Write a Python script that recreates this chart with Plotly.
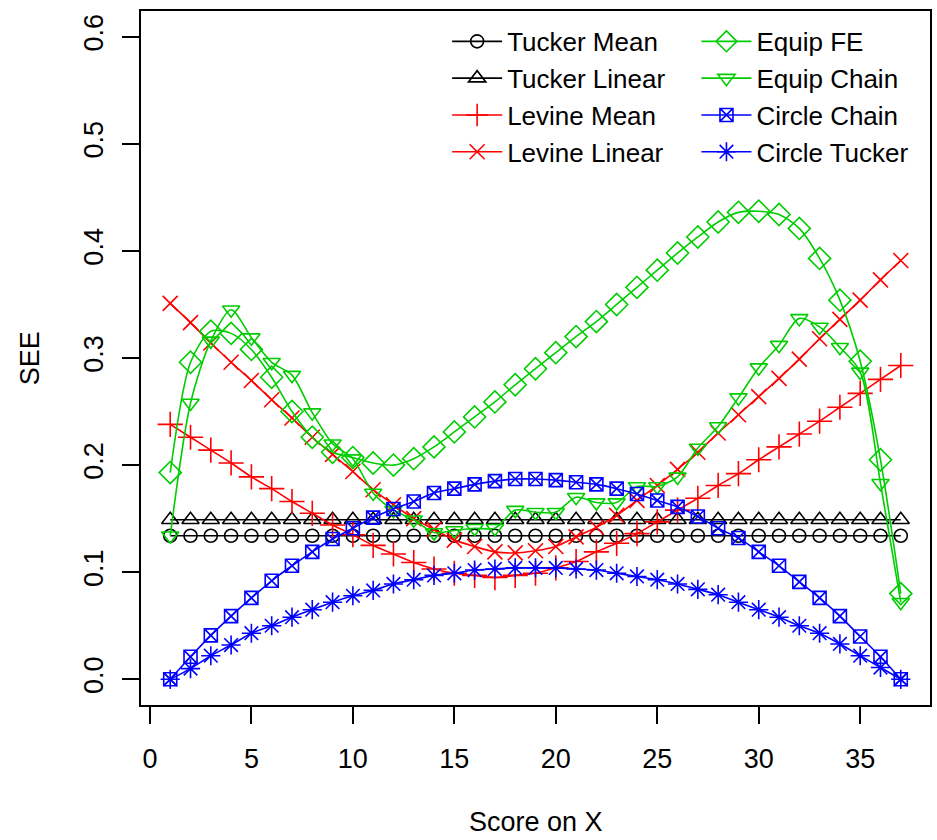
import plotly.graph_objects as go

scores = list(range(1, 38))

tucker_mean = [0.134, 0.134, 0.134, 0.134, 0.134, 0.134, 0.134, 0.134, 0.134, 0.134,
               0.134, 0.134, 0.134, 0.134, 0.134, 0.134, 0.134, 0.134, 0.134, 0.134,
               0.134, 0.134, 0.134, 0.134, 0.134, 0.134, 0.134, 0.134, 0.134, 0.134,
               0.134, 0.134, 0.134, 0.134, 0.134, 0.134, 0.134]
tucker_linear = [0.149, 0.149, 0.149, 0.149, 0.149, 0.149, 0.149, 0.149, 0.149, 0.149,
                 0.149, 0.149, 0.149, 0.149, 0.149, 0.149, 0.149, 0.149, 0.149, 0.149,
                 0.149, 0.149, 0.149, 0.149, 0.149, 0.149, 0.149, 0.149, 0.149, 0.149,
                 0.149, 0.149, 0.149, 0.149, 0.149, 0.149, 0.149]
levine_mean = [0.238, 0.226, 0.214, 0.202, 0.189, 0.178, 0.166, 0.155, 0.144, 0.135,
               0.125, 0.117, 0.109, 0.103, 0.099, 0.097, 0.095, 0.097, 0.099, 0.104,
               0.110, 0.119, 0.127, 0.136, 0.147, 0.158, 0.169, 0.181, 0.192, 0.205,
               0.217, 0.229, 0.241, 0.254, 0.267, 0.280, 0.293]
levine_linear = [0.351, 0.333, 0.314, 0.296, 0.279, 0.261, 0.244, 0.226, 0.210, 0.194,
                 0.177, 0.163, 0.150, 0.140, 0.130, 0.124, 0.119, 0.118, 0.120, 0.124,
                 0.133, 0.142, 0.153, 0.167, 0.181, 0.196, 0.212, 0.230, 0.247, 0.264,
                 0.281, 0.299, 0.318, 0.336, 0.354, 0.373, 0.391]
equip_fe = [0.193, 0.296, 0.325, 0.323, 0.308, 0.282, 0.250, 0.226, 0.212, 0.207,
            0.202, 0.200, 0.206, 0.217, 0.231, 0.245, 0.259, 0.275, 0.290, 0.305,
            0.320, 0.334, 0.350, 0.366, 0.382, 0.398, 0.413, 0.427, 0.436, 0.437,
            0.434, 0.421, 0.393, 0.354, 0.297, 0.205, 0.080]
equip_chain = [0.134, 0.258, 0.316, 0.345, 0.319, 0.296, 0.284, 0.249, 0.220, 0.206,
               0.174, 0.158, 0.149, 0.137, 0.139, 0.141, 0.141, 0.158, 0.156, 0.156,
               0.170, 0.165, 0.165, 0.180, 0.180, 0.189, 0.216, 0.236, 0.263, 0.291,
               0.312, 0.337, 0.329, 0.310, 0.287, 0.183, 0.072]
circle_chain = [0.000, 0.021, 0.041, 0.059, 0.076, 0.092, 0.106, 0.119, 0.131, 0.141,
                0.151, 0.159, 0.166, 0.174, 0.178, 0.182, 0.185, 0.187, 0.187, 0.186,
                0.184, 0.182, 0.178, 0.173, 0.167, 0.161, 0.152, 0.141, 0.132, 0.119,
                0.106, 0.091, 0.076, 0.059, 0.040, 0.021, 0.000]
circle_tucker = [0.000, 0.010, 0.022, 0.032, 0.043, 0.050, 0.058, 0.065, 0.072, 0.078,
                 0.083, 0.089, 0.093, 0.097, 0.099, 0.102, 0.103, 0.104, 0.104, 0.104,
                 0.103, 0.102, 0.099, 0.096, 0.093, 0.089, 0.084, 0.079, 0.072, 0.065,
                 0.058, 0.050, 0.043, 0.033, 0.022, 0.011, 0.000]

x_ticks = [0, 5, 10, 15, 20, 25, 30, 35]
y_ticks = [0.0, 0.1, 0.2, 0.3, 0.4, 0.5, 0.6]

BLACK = "#000000"
RED = "#FF0000"
GREEN = "#00CD00"
BLUE = "#0000FF"

series = [
    ("Tucker Mean", tucker_mean, BLACK, "circle-open", 13, "legend"),
    ("Tucker Linear", tucker_linear, BLACK, "triangle-up-open", 15, "legend"),
    ("Levine Mean", levine_mean, RED, "cross-thin-open", 18, "legend"),
    ("Levine Linear", levine_linear, RED, "x-thin-open", 15, "legend"),
    ("Equip FE", equip_fe, GREEN, "diamond-open", 17, "legend2"),
    ("Equip Chain", equip_chain, GREEN, "triangle-down-open", 15, "legend2"),
    ("Circle Chain", circle_chain, BLUE, "square-x-open", 13, "legend2"),
    ("Circle Tucker", circle_tucker, BLUE, "asterisk-open", 16, "legend2"),
]

fig = go.Figure()
for name, vals, col, sym, sz, lg in series:
    fig.add_trace(go.Scatter(
        x=scores, y=vals, name=name, mode="lines+markers",
        line=dict(color=col, width=1.6, shape="spline", smoothing=0.8),
        marker=dict(symbol=sym, size=sz, color=col, line=dict(color=col, width=1.6)),
        legend=lg,
    ))

FONT = "Liberation Sans, Arial, sans-serif"
FS = 27
leg_common = dict(
    xanchor="left", yanchor="top", bgcolor="rgba(0,0,0,0)", borderwidth=0,
    font=dict(family=FONT, size=26, color="black"), itemwidth=50,
    tracegroupgap=0,
)
fig.update_layout(
    width=937, height=840,
    margin=dict(l=141, r=5, t=11, b=135),
    paper_bgcolor="white", plot_bgcolor="white",
    font=dict(family=FONT, size=FS, color="black"),
    showlegend=True,
    legend=dict(x=0.388, y=0.99, **leg_common),
    legend2=dict(x=0.704, y=0.99, **leg_common),
    xaxis=dict(
        range=[-0.44, 38.44], tickvals=x_ticks, ticktext=[str(v) for v in x_ticks],
        showgrid=False, zeroline=False, showline=True, mirror=True,
        linecolor="black", linewidth=1.5, ticks="outside", ticklen=17,
        tickwidth=1.5, tickcolor="black", ticklabelstandoff=12,
        tickfont=dict(family=FONT, size=FS),
    ),
    yaxis=dict(
        range=[-0.024, 0.624], tickvals=y_ticks, ticktext=["%.1f" % v for v in y_ticks],
        showgrid=False, zeroline=False, showline=True, mirror=True,
        linecolor="black", linewidth=1.5, ticks="outside", ticklen=17,
        tickwidth=1.5, tickcolor="black", tickangle=-90, ticklabelstandoff=8,
        tickfont=dict(family=FONT, size=FS),
    ),
    annotations=[
        dict(text="Score on X", xref="paper", yref="paper", x=0.5, y=-0.168,
             xanchor="center", yanchor="middle", showarrow=False,
             font=dict(family=FONT, size=FS)),
        dict(text="SEE", xref="paper", yref="paper", x=-0.1405, y=0.5,
             xanchor="center", yanchor="middle", showarrow=False, textangle=-90,
             font=dict(family=FONT, size=FS)),
    ],
)

fig.write_html("out.html")
